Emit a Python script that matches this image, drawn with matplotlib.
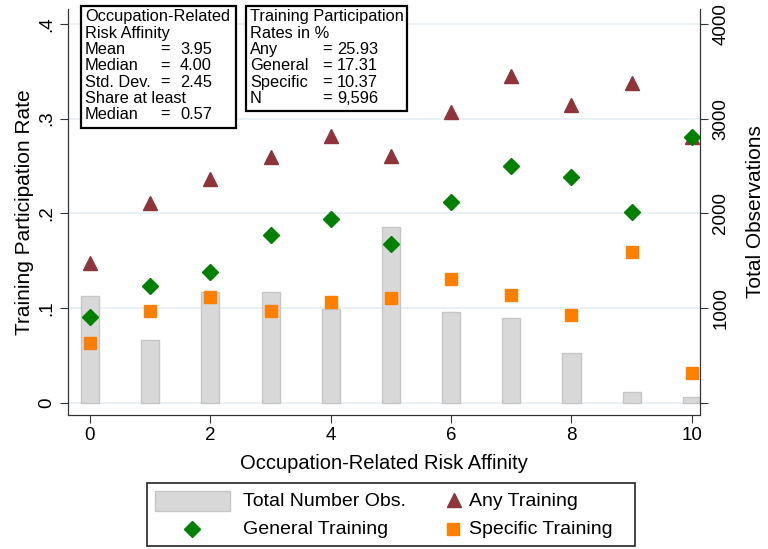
import numpy as np
import matplotlib.pyplot as plt
from matplotlib.lines import Line2D
from matplotlib.patches import Rectangle

plt.rcParams["font.family"] = ["Liberation Sans", "DejaVu Sans"]

# Data
risk = [0, 1, 2, 3, 4, 5, 6, 7, 8, 9, 10]
total_obs = [1125, 665, 1170, 1170, 990, 1862, 960, 900, 528, 118, 65]
any_training = [0.148, 0.211, 0.236, 0.260, 0.282, 0.261, 0.307, 0.345, 0.314, 0.337, 0.281]
general_training = [0.091, 0.124, 0.138, 0.177, 0.194, 0.168, 0.212, 0.250, 0.238, 0.201, 0.281]
specific_training = [0.063, 0.097, 0.112, 0.097, 0.107, 0.111, 0.131, 0.114, 0.093, 0.159, 0.032]

left_ticks = [0, 0.1, 0.2, 0.3, 0.4]
left_labels = ["0", ".1", ".2", ".3", ".4"]
right_ticks = [1000, 2000, 3000, 4000]

box1 = [("Mean", "3.95"), ("Median", "4.00"), ("Std. Dev.", "2.45")]
box2 = [("Any", "25.93"), ("General", "17.31"), ("Specific", "10.37"), ("N", "9,596")]

c_any = "#8f343b"
c_gen = "#008000"
c_spec = "#ff8000"
c_bar = "#d8d8d8"

W, H = 768, 549
fig = plt.figure(figsize=(7.68, 5.49), dpi=100)
ax = fig.add_axes([68 / W, 1 - 415 / H, 632 / W, 406 / H])
ax2 = ax.twinx()
ax.set_zorder(ax2.get_zorder() + 1)
ax.patch.set_visible(False)

# bars on the right axis
ax2.bar(risk, total_obs, width=0.3, color=c_bar, edgecolor="#c6c6c6", linewidth=1, zorder=2)
ax2.set_ylim(-125, 4155)
ax2.set_yticks([0] + right_ticks)
ax2.set_yticklabels([""] + [str(t) for t in right_ticks], rotation=90, va="center", fontsize=13.5)
ax2.yaxis.grid(True, color="#e6eff2", linewidth=1.2, zorder=0)
ax2.set_axisbelow(True)
ax2.set_ylabel("Total Observations", fontsize=15, labelpad=12)

# markers on the left axis
ax.plot(risk, any_training, linestyle="none", marker="^", markersize=9.5, color=c_any)
ax.plot(risk, general_training, linestyle="none", marker="D", markersize=8, color=c_gen)
ax.plot(risk, specific_training, linestyle="none", marker="s", markersize=8, color=c_spec)

ax.set_xlim(-0.365, 10.135)
ax.set_ylim(-0.0125, 0.4155)
ax.set_xticks([0, 2, 4, 6, 8, 10])
ax.set_xticklabels(["0", "2", "4", "6", "8", "10"], fontsize=13.5)
ax.set_yticks(left_ticks)
ax.set_yticklabels(left_labels, rotation=90, va="center", fontsize=13.5)
ax.set_xlabel("Occupation-Related Risk Affinity", fontsize=14.5, labelpad=7)
ax.set_ylabel("Training Participation Rate", fontsize=15, labelpad=3)

for a in (ax, ax2):
    a.spines["top"].set_visible(False)
    for s in ("left", "right", "bottom"):
        a.spines[s].set_color("#333333")
    a.tick_params(direction="out", length=6, color="#333333", pad=3)


def fx(x):
    return x / W


def fy(y):
    return 1 - y / H


# text boxes (pixel layout)
def stat_box(x0, y0, x1, y1, header, rows, xeq, xval):
    fig.add_artist(Rectangle((fx(x0), fy(y1)), fx(x1) - fx(x0), fy(y0) - fy(y1),
                             transform=fig.transFigure, facecolor="white",
                             edgecolor="black", linewidth=1.6, zorder=5))
    lh = 16.3
    xt = x0 + 4
    y = y0 + 11
    kw = dict(va="center", fontsize=11.8, zorder=6)
    for line in header:
        fig.text(fx(xt), fy(y), line, **kw)
        y += lh
    for lab, val in rows:
        if lab is None:
            fig.text(fx(xt), fy(y), val, **kw)
        else:
            fig.text(fx(xt), fy(y), lab, **kw)
            fig.text(fx(xeq), fy(y), "=", **kw)
            fig.text(fx(xval), fy(y), val, **kw)
        y += lh


stat_box(81, 6, 236, 128, ["Occupation-Related", "Risk Affinity"],
         box1 + [(None, "Share at least"), ("Median", "0.57")], 160, 180)
stat_box(246, 6, 407, 111, ["Training Participation", "Rates in %"],
         box2, 322, 337)

# legend (drawn by hand to match the two handle widths)
fig.add_artist(Rectangle((fx(147), fy(546)), fx(635) - fx(147), fy(483) - fy(546),
                         transform=fig.transFigure, facecolor="white",
                         edgecolor="#222222", linewidth=1.2))
fig.add_artist(Rectangle((fx(155), fy(511)), fx(230) - fx(155), fy(491) - fy(511),
                         transform=fig.transFigure, facecolor=c_bar,
                         edgecolor="#c6c6c6", linewidth=1))
fig.add_artist(Line2D([fx(192)], [fy(529)], transform=fig.transFigure,
                      linestyle="none", marker="D", markersize=8, color=c_gen))
fig.add_artist(Line2D([fx(454)], [fy(500)], transform=fig.transFigure,
                      linestyle="none", marker="^", markersize=9.5, color=c_any))
fig.add_artist(Line2D([fx(453)], [fy(529)], transform=fig.transFigure,
                      linestyle="none", marker="s", markersize=8, color=c_spec))
lkw = dict(va="center", fontsize=14)
fig.text(fx(243), fy(501), "Total Number Obs.", **lkw)
fig.text(fx(243), fy(530), "General Training", **lkw)
fig.text(fx(469), fy(501), "Any Training", **lkw)
fig.text(fx(469), fy(530), "Specific Training", **lkw)

fig.savefig("out.png", dpi=100)
